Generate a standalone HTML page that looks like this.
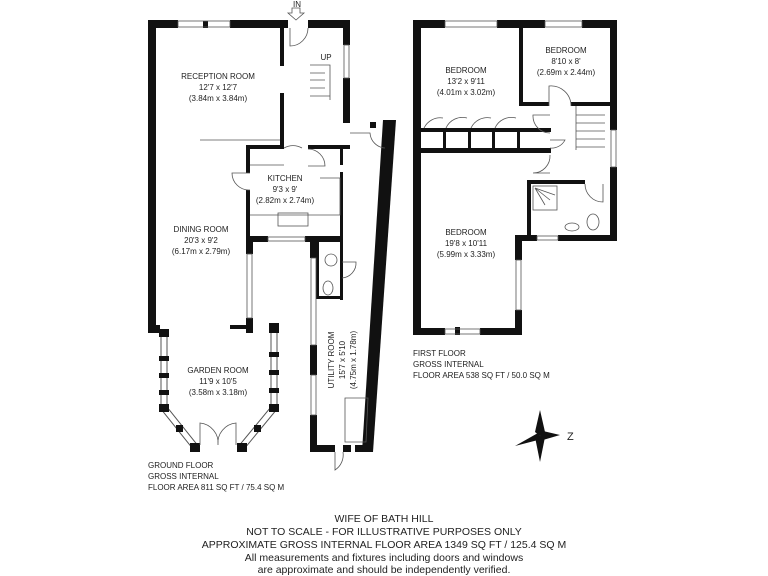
<!DOCTYPE html>
<html><head><meta charset="utf-8"><style>
html,body{margin:0;padding:0;background:#fff}
svg{display:block}
text{font-family:"Liberation Sans",sans-serif;fill:#222}
</style></head><body>
<svg width="768" height="576" viewBox="0 0 768 576" xmlns="http://www.w3.org/2000/svg">
<g fill="#111">
<!-- Ground floor walls -->
<rect x="148" y="20" width="8" height="313"/>
<rect x="148" y="20" width="30" height="8"/>
<rect x="230" y="20" width="58" height="8"/>
<rect x="203" y="21" width="5" height="7"/>
<rect x="308" y="20" width="42" height="8"/>
<rect x="343" y="20" width="7" height="25"/>
<rect x="343" y="78" width="7" height="45"/>
<rect x="280" y="28" width="4" height="38"/>
<rect x="280" y="93" width="4" height="55"/>
<rect x="246" y="145" width="38" height="4"/>
<rect x="308" y="145" width="42" height="4"/>
<rect x="246" y="145" width="4" height="28"/>
<rect x="246" y="190" width="4" height="48"/>
<rect x="340" y="145" width="3" height="20"/>
<rect x="340" y="172" width="3" height="128"/>
<rect x="246" y="236" width="22" height="6"/>
<rect x="305" y="236" width="38" height="6"/>
<rect x="246" y="242" width="7" height="12"/>
<rect x="246" y="318" width="7" height="15"/>
<rect x="148" y="325" width="12" height="8"/>
<rect x="230" y="325" width="23" height="4"/>
<!-- utility -->
<rect x="310" y="236" width="7" height="22"/>
<rect x="310" y="345" width="7" height="30"/>
<rect x="310" y="415" width="7" height="37"/>
<rect x="310" y="445" width="25" height="7"/>
<rect x="343" y="445" width="8" height="7"/>
<rect x="355" y="445" width="18" height="7"/>
<rect x="316" y="296" width="26" height="3"/>
<rect x="316" y="236" width="3" height="62"/>
<polygon points="383,120 396,120 373,452 362,452"/>
<rect x="370" y="122" width="6" height="6"/>
<!-- First floor -->
<rect x="413" y="20" width="8" height="315"/>
<rect x="413" y="20" width="32" height="8"/>
<rect x="497" y="20" width="48" height="8"/>
<rect x="582" y="20" width="35" height="8"/>
<rect x="610" y="20" width="7" height="110"/>
<rect x="610" y="167" width="7" height="73"/>
<rect x="519" y="28" width="4" height="78"/>
<rect x="519" y="102" width="30" height="4"/>
<rect x="571" y="102" width="40" height="4"/>
<rect x="421" y="148" width="130" height="5"/>
<rect x="421" y="128" width="130" height="4"/>
<rect x="443" y="132" width="3" height="16"/>
<rect x="468" y="132" width="3" height="16"/>
<rect x="492" y="132" width="3" height="16"/>
<rect x="517" y="132" width="3" height="16"/>
<rect x="527" y="180" width="58" height="4"/>
<rect x="527" y="180" width="4" height="58"/>
<rect x="515" y="235" width="22" height="6"/>
<rect x="558" y="235" width="59" height="6"/>
<rect x="515" y="235" width="7" height="25"/>
<rect x="515" y="310" width="7" height="25"/>
<rect x="413" y="328" width="32" height="7"/>
<rect x="480" y="328" width="42" height="7"/>
<rect x="455" y="327" width="5" height="8"/>
</g>
<!-- garden room window walls -->
<g>
<path d="M164 333 L164 408 L196 448 M274 327 L274 408 L241 448" fill="none" stroke="#555" stroke-width="7"/>
<path d="M164 333 L164 408 L196 448 M274 327 L274 408 L241 448" fill="none" stroke="#fff" stroke-width="5"/>
<g fill="#111">
<rect x="159" y="329" width="10" height="8"/><rect x="269" y="323" width="10" height="10"/>
<rect x="159" y="356" width="10" height="5"/><rect x="159" y="373" width="10" height="5"/><rect x="159" y="390" width="10" height="5"/>
<rect x="269" y="352" width="10" height="5"/><rect x="269" y="370" width="10" height="5"/><rect x="269" y="388" width="10" height="5"/>
<rect x="159" y="404" width="10" height="8"/><rect x="269" y="404" width="10" height="8"/>
<rect x="176" y="425" width="7" height="7"/><rect x="254" y="425" width="7" height="7"/>
<rect x="190" y="443" width="10" height="9"/><rect x="237" y="443" width="10" height="9"/>
</g>
</g>
<g fill="none" stroke="#555" stroke-width="0.8">
<rect x="178" y="21" width="52" height="6"/>
<rect x="344" y="45" width="5" height="33"/>
<rect x="268" y="237" width="37" height="4"/>
<rect x="247" y="254" width="5" height="64"/>
<rect x="311" y="258" width="5" height="87"/>
<rect x="311" y="375" width="5" height="40"/>
<rect x="445" y="21" width="52" height="6"/>
<rect x="545" y="21" width="37" height="6"/>
<rect x="611" y="130" width="5" height="37"/>
<rect x="537" y="236" width="21" height="4"/>
<rect x="516" y="260" width="5" height="50"/>
<rect x="445" y="329" width="35" height="5"/>
<path d="M290 28 L290 46 A18 18 0 0 0 308 28"/>
<path d="M250 173 L232 173 A17 17 0 0 0 250 190"/>
<path d="M284 148 A18 18 0 0 1 302 148 L302 148 M308 149 A17 17 0 0 1 325 166 L308 166"/>
<path d="M350 133 L370 133 A16 16 0 0 0 385 148"/>
<path d="M342 262 L356 262 A15 15 0 0 1 342 278"/>
<path d="M200 445 L200 423 A20 20 0 0 1 218 445 M236 445 L236 423 A20 20 0 0 0 218 445"/>
<path d="M335 452 L335 470 A18 18 0 0 0 343 452"/>
<path d="M549 106 L549 86 A20 20 0 0 1 571 106"/>
<path d="M550 133 A17 17 0 0 1 533 115 L550 115"/>
<path d="M550 155 A17 17 0 0 1 533 173 L550 173"/>
<path d="M550 140 L565 140 A15 15 0 0 1 550 148"/>
<path d="M585 184 A18 18 0 0 0 603 202 L603 184"/>
<path d="M424 128 A18 18 0 0 1 443 118 M446 128 A18 18 0 0 1 467 118 M471 128 A18 18 0 0 1 491 118 M495 128 A18 18 0 0 1 516 118"/>
<path d="M576 106 L576 150 M576 115 L605 115 M576 123 L605 123 M576 131 L605 131 M576 139 L605 139 M576 147 L605 147"/>
<path d="M310 65 L330 65 L330 100 M310 73 L325 73 M310 80 L325 80 M310 88 L325 88 M310 96 L330 96"/>
<path d="M200 140 L280 140"/>
<path d="M250 165 L284 165 M320 178 L340 178 L340 215 L250 215"/>
<rect x="278" y="213" width="30" height="13"/>
<rect x="533" y="186" width="24" height="24"/>
<path d="M535 188 L550 200 M535 188 L545 205 M535 188 L555 195"/>
<ellipse cx="593" cy="222" rx="6" ry="8"/>
<ellipse cx="572" cy="227" rx="7" ry="4"/>
<ellipse cx="331" cy="260" rx="6" ry="6"/>
<ellipse cx="328" cy="288" rx="5" ry="7"/>
<polygon points="345,398 368,398 366,442 345,442"/>
<path d="M292 8 L292 13 L288 13 L296 20 L304 13 L300 13 L300 8 Z"/>
</g>
<g>
<polygon points="540,410 545,432 540,436 535,432" fill="#111"/>
<polygon points="540,462 545,437 540,436 535,437" fill="#111"/>
<polygon points="560,435 543,431 540,436 543,440" fill="#111"/>
<polygon points="515,446 538,433 540,436 538,440" fill="#111"/>
</g>
<text x="567" y="440" font-size="11">Z</text>
<g font-size="8" text-anchor="middle">
<text x="297" y="7" font-size="8">IN</text>
<text x="326" y="60">UP</text>
<text x="218" y="79">RECEPTION ROOM</text>
<text x="218" y="90">12'7 x 12'7</text>
<text x="218" y="101">(3.84m x 3.84m)</text>
<text x="285" y="181">KITCHEN</text>
<text x="285" y="192">9'3 x 9'</text>
<text x="285" y="203">(2.82m x 2.74m)</text>
<text x="201" y="232">DINING ROOM</text>
<text x="201" y="243">20'3 x 9'2</text>
<text x="201" y="254">(6.17m x 2.79m)</text>
<text x="218" y="373">GARDEN ROOM</text>
<text x="218" y="384">11'9 x 10'5</text>
<text x="218" y="395">(3.58m x 3.18m)</text>
<text x="466" y="73">BEDROOM</text>
<text x="466" y="84">13'2 x 9'11</text>
<text x="466" y="95">(4.01m x 3.02m)</text>
<text x="566" y="53">BEDROOM</text>
<text x="566" y="64">8'10 x 8'</text>
<text x="566" y="75">(2.69m x 2.44m)</text>
<text x="466" y="235">BEDROOM</text>
<text x="466" y="246">19'8 x 10'11</text>
<text x="466" y="257">(5.99m x 3.33m)</text>
<g transform="translate(346,360) rotate(-90)">
<text x="0" y="-12">UTILITY ROOM</text>
<text x="0" y="-1">15'7 x 5'10</text>
<text x="0" y="10">(4.75m x 1.78m)</text>
</g>
</g>
<g font-size="8">
<text x="148" y="468">GROUND FLOOR</text>
<text x="148" y="479">GROSS INTERNAL</text>
<text x="148" y="490">FLOOR AREA 811 SQ FT / 75.4 SQ M</text>
<text x="413" y="356">FIRST FLOOR</text>
<text x="413" y="367">GROSS INTERNAL</text>
<text x="413" y="378">FLOOR AREA 538 SQ FT / 50.0 SQ M</text>
</g>
<g font-size="10.5" text-anchor="middle">
<text x="384" y="522">WIFE OF BATH HILL</text>
<text x="384" y="535">NOT TO SCALE - FOR ILLUSTRATIVE PURPOSES ONLY</text>
<text x="384" y="548">APPROXIMATE GROSS INTERNAL FLOOR AREA 1349 SQ FT / 125.4 SQ M</text>
<text x="384" y="561">All measurements and fixtures including doors and windows</text>
<text x="384" y="573">are approximate and should be independently verified.</text>
</g>
</svg>
</body></html>
